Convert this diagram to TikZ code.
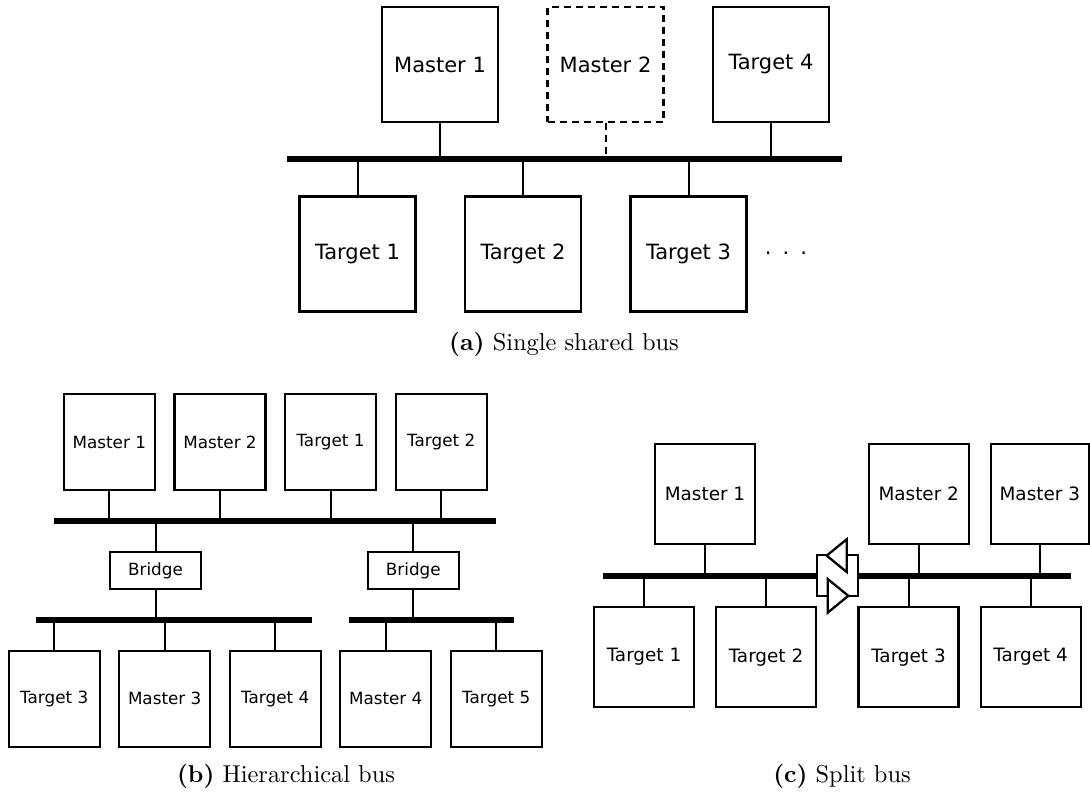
\documentclass[tikz,border=0pt]{standalone}
\usepackage{fontspec}
\setmainfont{lmroman10-regular.otf}[BoldFont=lmroman10-bold.otf]
\newfontfamily\boxfont{DejaVu Sans}
\begin{document}
\begin{tikzpicture}[x=1pt,y=-1pt,
  unit/.style={draw, rectangle, inner sep=0pt, align=center},
  ablk/.style={unit, line width=2.6pt, minimum width=116pt, minimum height=115pt,
               font={\boxfont\fontsize{21}{25}\selectfont}},
  bblk/.style={unit, line width=2.3pt, minimum width=91pt, minimum height=96pt,
               font={\boxfont\fontsize{16.8}{20}\selectfont}},
  bbridge/.style={unit, line width=2.3pt, minimum width=91pt, minimum height=37.6pt,
               font={\boxfont\fontsize{16.8}{20}\selectfont}},
  cblk/.style={unit, line width=2.3pt, minimum width=100pt, minimum height=100pt,
               font={\boxfont\fontsize{18.4}{22}\selectfont}},
  wire/.style={line width=2pt},
  buswire/.style={line width=6pt, line cap=butt},
  caption/.style={anchor=base, font={\fontsize{24.4}{29}\selectfont}},
]
\useasboundingbox (0,0) rectangle (1090,794);

%---------------- (a) single shared bus ----------------
\coordinate (aL) at (287,159);
\coordinate (aR) at (842,159);
\draw[buswire] (aL) -- (aR);

\node[ablk] (am1) at (440,64.5) {Master 1};
\node[ablk, dash pattern=on 7pt off 5pt] (am2) at (605.5,64.5) {Master 2};
\node[ablk] (at4) at (771,64.5) {Target 4};
\node[ablk] (at1) at (357.5,254) {Target 1};
\node[ablk] (at2) at (523,254) {Target 2};
\node[ablk] (at3) at (688.5,254) {Target 3};
\node[anchor=base, font={\boxfont\fontsize{21}{25}\selectfont}] (adots) at (786,255)
  {.\hspace{11pt}.\hspace{11pt}.};

\draw[wire] (am1.south) -- (am1.south |- aL);
\draw[wire, dash pattern=on 7pt off 5pt] (am2.south) -- ([yshift=-3pt]am2.south |- aL);
\draw[wire] (at4.south) -- (at4.south |- aL);
\draw[wire] (at1.north) -- (at1.north |- aL);
\draw[wire] (at2.north) -- (at2.north |- aL);
\draw[wire] (at3.north) -- (at3.north |- aL);

\node[caption] (capa) at (564,350.7) {\textbf{(a)} Single shared bus};

%---------------- (b) hierarchical bus ----------------
\coordinate (bTL) at (54.3,521);
\coordinate (bTR) at (496.3,521);
\coordinate (bLL) at (35.7,619.7);
\coordinate (bLR) at (311.7,619.7);
\coordinate (bRL) at (349,619.7);
\coordinate (bRR) at (514.3,619.7);
\draw[buswire, line width=5.7pt] (bTL) -- (bTR);
\draw[buswire, line width=5.7pt] (bLL) -- (bLR);
\draw[buswire, line width=5.7pt] (bRL) -- (bRR);

\node[bblk] (bm1) at (109.3,442) {Master 1};
\node[bblk] (bm2) at (220,442) {Master 2};
\node[bblk] (bt1) at (330.5,442) {Target 1};
\node[bblk] (bt2) at (441.2,442) {Target 2};
\node[bbridge] (bb1) at (155.5,570.5) {Bridge};
\node[bbridge] (bb2) at (413.3,570.5) {Bridge};
\node[bblk] (bt3) at (54.2,698.8) {Target 3};
\node[bblk] (bm3) at (164.7,698.8) {Master 3};
\node[bblk] (bt4) at (275.2,698.8) {Target 4};
\node[bblk] (bm4) at (385.7,698.8) {Master 4};
\node[bblk] (bt5) at (496.2,698.8) {Target 5};

\foreach \n in {bm1,bm2,bt1,bt2}
  \draw[wire] (\n.south) -- (\n.south |- bTL);
\draw[wire] (bb1.north) -- (bb1.north |- bTL);
\draw[wire] (bb2.north) -- (bb2.north |- bTL);
\draw[wire] (bb1.south) -- (bb1.south |- bLL);
\draw[wire] (bb2.south) -- (bb2.south |- bRL);
\foreach \n in {bt3,bm3,bt4}
  \draw[wire] (\n.north) -- (\n.north |- bLL);
\foreach \n in {bm4,bt5}
  \draw[wire] (\n.north) -- (\n.north |- bRL);

\node[caption] (capb) at (286,782.3) {\textbf{(b)} Hierarchical bus};

%---------------- (c) split bus ----------------
\coordinate (cL) at (603.3,575.8);
\coordinate (cBL) at (816.7,575.8);
\coordinate (cBR) at (857.7,575.8);
\coordinate (cR) at (1071,575.8);
\draw[buswire, line width=5.7pt] (cL) -- (cBL);
\draw[buswire, line width=5.7pt] (cBR) -- (cR);

% bridge made of two opposed buffers
\begin{scope}[line width=2.3pt, line join=miter]
  \draw (826.7,555.2) -- (816.7,555.2) -- (816.7,596) -- (827.7,596);
  \draw (846.7,555.2) -- (857.7,555.2) -- (857.7,596) -- (848.3,596);
  \draw (846.7,539.3) -- (846.7,572) -- (826.7,555.6) -- cycle;
  \draw (827.7,579) -- (827.7,612.7) -- (848.3,595.8) -- cycle;
\end{scope}

\node[cblk] (cm1) at (705,494.3) {Master 1};
\node[cblk] (cm2) at (918.7,494.3) {Master 2};
\node[cblk, minimum width=98pt] (cm3) at (1039.8,494.3) {Master 3};
\node[cblk] (ct1) at (644,657.2) {Target 1};
\node[cblk] (ct2) at (766,657.2) {Target 2};
\node[cblk] (ct3) at (908.5,657.2) {Target 3};
\node[cblk] (ct4) at (1030.7,657.2) {Target 4};

\foreach \n in {cm1,cm2,cm3}
  \draw[wire] (\n.south) -- (\n.south |- cL);
\foreach \n in {ct1,ct2,ct3,ct4}
  \draw[wire] (\n.north) -- (\n.north |- cL);

\node[caption] (capc) at (842,782.3) {\textbf{(c)} Split bus};
\end{tikzpicture}
\end{document}
